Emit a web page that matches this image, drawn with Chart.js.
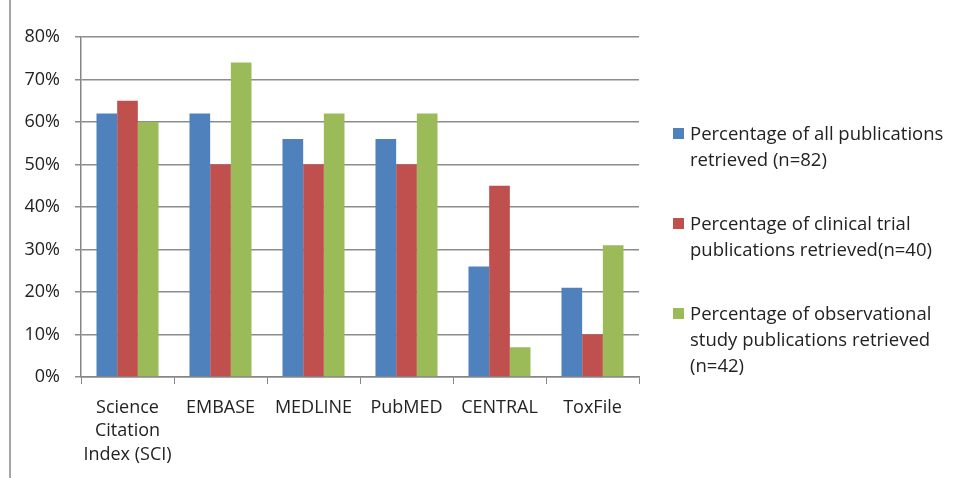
<!DOCTYPE html>
<html>
<head>
<meta charset="utf-8">
<script src="https://cdn.jsdelivr.net/npm/chart.js@4"></script>
<style>
  html, body { margin: 0; padding: 0; background: #fff; }
  #wrap { position: relative; width: 954px; height: 478px; }
  #frame { position: absolute; left: 9px; top: 0; width: 2px; height: 478px; background: #a6a6a6; }
  #legend { position: absolute; left: 673px; top: 120px; font-family: "Open Sans", sans-serif; font-size: 18.5px; color: #222; line-height: 26px; white-space: nowrap; }
  .item { position: relative; padding-left: 17px; margin-bottom: 38px; }
  .box { position: absolute; left: 0; top: 8px; width: 11px; height: 11px; }
</style>
</head>
<body>
<div id="wrap">
  <canvas id="js--chart" width="954" height="478"></canvas>
  <div id="frame"></div>
  <div id="legend"></div>
</div>
<script>
const categories = [
    ["Science", "Citation", "Index (SCI)"],
    "EMBASE",
    "MEDLINE",
    "PubMED",
    "CENTRAL",
    "ToxFile",
]
const allPubs = [62, 62, 56, 56, 26, 21]
const clinicalPubs = [65, 50, 50, 50, 45, 10]
const observationalPubs = [60, 74, 62, 62, 7, 31]
const yTicks = [0, 10, 20, 30, 40, 50, 60, 70, 80]

const legendLines = [
    ["Percentage of all publications", "retrieved (n=82)"],
    ["Percentage of clinical trial", "publications retrieved(n=40)"],
    ["Percentage of observational", "study publications retrieved", "(n=42)"],
]
const colors = ['#4F81BD', '#C0504D', '#9BBB59']

const data = {
    labels: categories,
    datasets: [allPubs, clinicalPubs, observationalPubs].map((values, i) => ({
        label: legendLines[i].join(' '),
        data: values,
        backgroundColor: colors[i],
        borderWidth: 0,
        categoryPercentage: 0.667,
        barPercentage: 1,
    }))
}

const font = { family: '"Open Sans", sans-serif', size: 18, lineHeight: 1.3 }

const config = {
    type: 'bar',
    data: data,
    options: {
        responsive: false,
        animation: false,
        layout: { padding: { top: 37, right: 315, left: 0, bottom: 0 } },
        plugins: { legend: { display: false }, tooltip: { enabled: false } },
        scales: {
            x: {
                afterFit: (s) => { s.height = 101 },
                grid: { drawOnChartArea: false, drawTicks: true, tickLength: 7, color: '#868686', lineWidth: 1 },
                border: { color: '#868686', width: 1.5 },
                ticks: { color: '#222', font: font, padding: 12, maxRotation: 0 },
            },
            y: {
                min: 0,
                max: 80,
                afterFit: (s) => { s.width = 81 },
                afterBuildTicks: (s) => { s.ticks = yTicks.map(v => ({ value: v })) },
                grid: { color: '#8c8c8c', lineWidth: 1.5, tickLength: 6 },
                border: { color: '#868686', width: 1.5 },
                ticks: { color: '#222', font: font, padding: 15, callback: (v) => v + '%' },
            }
        }
    }
}

new Chart(document.getElementById("js--chart"), config)

const legend = document.getElementById("legend")
legendLines.forEach((lines, i) => {
    const item = document.createElement("div")
    item.className = "item"
    item.innerHTML = '<span class="box" style="background:' + colors[i] + '"></span>' + lines.join('<br>')
    legend.appendChild(item)
})
</script>
</body>
</html>
